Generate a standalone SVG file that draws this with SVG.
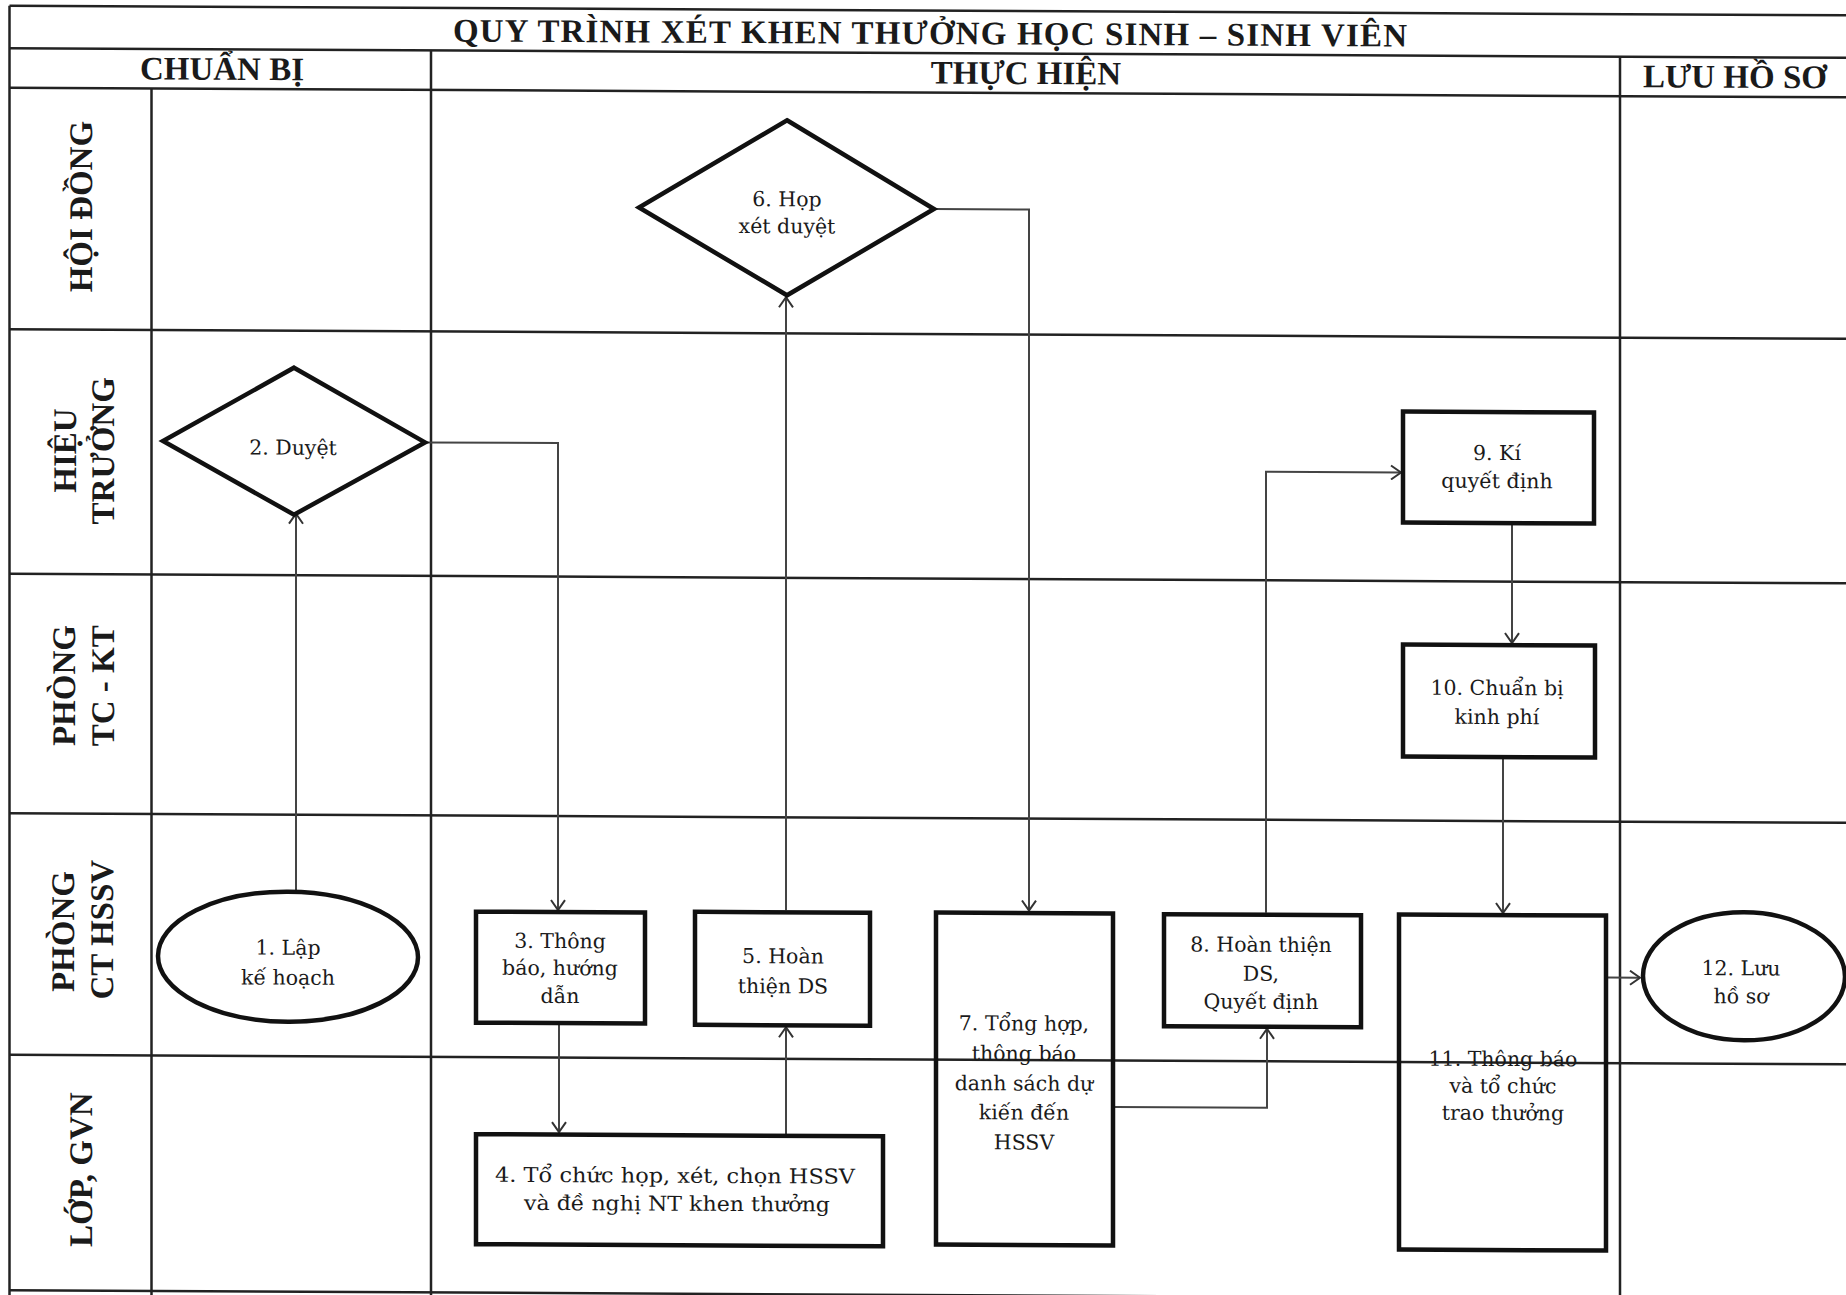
<svg xmlns="http://www.w3.org/2000/svg" width="1846" height="1295" viewBox="0 0 1846 1295">
<defs>
<marker id="arr" viewBox="0 0 12 16" refX="11" refY="8" markerWidth="12" markerHeight="16" markerUnits="userSpaceOnUse" orient="auto"><path d="M1,1 L11,8 L1,15" fill="none" stroke="#333" stroke-width="2"/></marker>
<style>
.grid{stroke:#222;stroke-width:2.5;fill:none}
.node{fill:none;stroke:#111;stroke-width:4.5}
.conn{fill:none;stroke:#444;stroke-width:2;marker-end:url(#arr)}
.hd{font-family:"Liberation Serif","Times New Roman",serif;font-weight:bold;font-size:33px;fill:#1a1a1a;text-anchor:middle}
.lane{font-family:"Liberation Serif","Times New Roman",serif;font-weight:bold;font-size:33px;fill:#1a1a1a;text-anchor:middle}
.t{font-family:"DejaVu Serif",serif;font-size:20.5px;fill:#1a1a1a;text-anchor:middle}
</style>
</defs>
<rect width="1846" height="1295" fill="#fff"/>
<g transform="matrix(1 0.00524 0 1 0 -4.836)">
<g id="frame" class="grid">
<line x1="9.5" y1="10.5" x2="1850" y2="10.5"/>
<line x1="9.5" y1="53" x2="1850" y2="53"/>
<line x1="9.5" y1="92.5" x2="1850" y2="92.5"/>
<line x1="9.5" y1="334" x2="1850" y2="334"/>
<line x1="9.5" y1="578.5" x2="1850" y2="578.5"/>
<line x1="9.5" y1="818" x2="1850" y2="818"/>
<line x1="9.5" y1="1059.5" x2="1850" y2="1059.5"/>
<line x1="9.5" y1="1295" x2="1850" y2="1295"/>
<line x1="9.5" y1="10.5" x2="9.5" y2="1300"/>
<line x1="151.5" y1="92.5" x2="151.5" y2="1300"/>
<line x1="431" y1="53" x2="431" y2="1300"/>
<line x1="1620" y1="53" x2="1620" y2="1300"/>
</g>
<g id="headers">
<text class="hd" x="930" y="44" font-size="34" textLength="954" lengthAdjust="spacing">QUY TRÌNH XÉT KHEN THƯỞNG HỌC SINH – SINH VIÊN</text>
<text class="hd" x="222" y="83.5">CHUẨN BỊ</text>
<text class="hd" x="1026" y="83.5">THỰC HIỆN</text>
<text class="hd" x="1735" y="83.5">LƯU HỒ SƠ</text>
</g>
<g id="lanes">
<text class="lane" transform="translate(92,211) rotate(-90)">HỘI ĐỒNG</text>
<text class="lane" transform="translate(76,455) rotate(-90)">HIỆU</text>
<text class="lane" transform="translate(114,455) rotate(-90)">TRƯỞNG</text>
<text class="lane" transform="translate(75,690) rotate(-90)">PHÒNG</text>
<text class="lane" transform="translate(114,690) rotate(-90)">TC - KT</text>
<text class="lane" transform="translate(74,936) rotate(-90)">PHÒNG</text>
<text class="lane" transform="translate(113,934) rotate(-90)">CT HSSV</text>
<text class="lane" transform="translate(92,1174) rotate(-90)">LỚP, GVN</text>
</g>
<g id="connectors">
<path class="conn" d="M296,895 V517"/>
<path class="conn" d="M425,445 H558 V912"/>
<path class="conn" d="M559,1027 V1134"/>
<path class="conn" d="M786,1136 V1028"/>
<path class="conn" d="M786,911 V298"/>
<path class="conn" d="M934,209 H1029 V910"/>
<path class="conn" d="M1115,1106 H1267 V1027"/>
<path class="conn" d="M1266,911 V470 H1401"/>
<path class="conn" d="M1512,522 V640"/>
<path class="conn" d="M1503,756 V910"/>
<path class="conn" d="M1608,974 H1640"/>
</g>
<g id="n1"><ellipse class="node" cx="288" cy="960" rx="130" ry="65"/>
<text class="t" x="288" y="958">1. Lập</text><text class="t" x="288" y="988">kế hoạch</text></g>
<g id="n2"><polygon class="node" points="294,371 425,445 294,518 163,445"/>
<text class="t" x="293" y="458">2. Duyệt</text></g>
<g id="n3"><rect class="node" x="476" y="914" width="169" height="111"/>
<text class="t" x="560" y="950">3. Thông</text><text class="t" x="560" y="977">báo, hướng</text><text class="t" x="560" y="1005">dẫn</text></g>
<g id="n4"><rect class="node" x="476" y="1136.5" width="407" height="110"/>
<text class="t" x="675" y="1184" font-size="22" textLength="360" lengthAdjust="spacingAndGlyphs">4. Tổ chức họp, xét, chọn HSSV</text><text class="t" x="677" y="1212" font-size="22" textLength="306" lengthAdjust="spacingAndGlyphs">và đề nghị NT khen  thưởng</text></g>
<g id="n5"><rect class="node" x="695" y="913" width="175" height="113"/>
<text class="t" x="783" y="964">5. Hoàn</text><text class="t" x="783" y="994">thiện DS</text></g>
<g id="n6"><polygon class="node" points="787,121 934,209 787,296 639,209"/>
<text class="t" x="787" y="207">6. Họp</text><text class="t" x="787" y="234">xét duyệt</text></g>
<g id="n7"><rect class="node" x="936" y="912.5" width="177" height="332"/>
<text class="t" x="1024" y="1030">7. Tổng hợp,</text><text class="t" x="1024" y="1060">thông báo</text><text class="t" x="1024" y="1090">danh sách dự</text><text class="t" x="1024" y="1119">kiến đến</text><text class="t" x="1024" y="1149">HSSV</text></g>
<g id="n8"><rect class="node" x="1164" y="913" width="197" height="112"/>
<text class="t" x="1261" y="950">8. Hoàn thiện</text><text class="t" x="1261" y="979">DS,</text><text class="t" x="1261" y="1007">Quyết định</text></g>
<g id="n9"><rect class="node" x="1403" y="409" width="191" height="111"/>
<text class="t" x="1497" y="457">9. Kí</text><text class="t" x="1497" y="485">quyết định</text></g>
<g id="n10"><rect class="node" x="1403" y="642" width="192" height="112"/>
<text class="t" x="1497" y="692">10. Chuẩn bị</text><text class="t" x="1497" y="721">kinh phí</text></g>
<g id="n11"><rect class="node" x="1399" y="912" width="207" height="335"/>
<text class="t" x="1503" y="1063">11. Thông báo</text><text class="t" x="1503" y="1090">và tổ chức</text><text class="t" x="1503" y="1117">trao thưởng</text></g>
<g id="n12"><ellipse class="node" cx="1744" cy="972" rx="101" ry="64"/>
<text class="t" x="1741" y="971">12. Lưu</text><text class="t" x="1741" y="999">hồ sơ</text></g>
</g>
</svg>
